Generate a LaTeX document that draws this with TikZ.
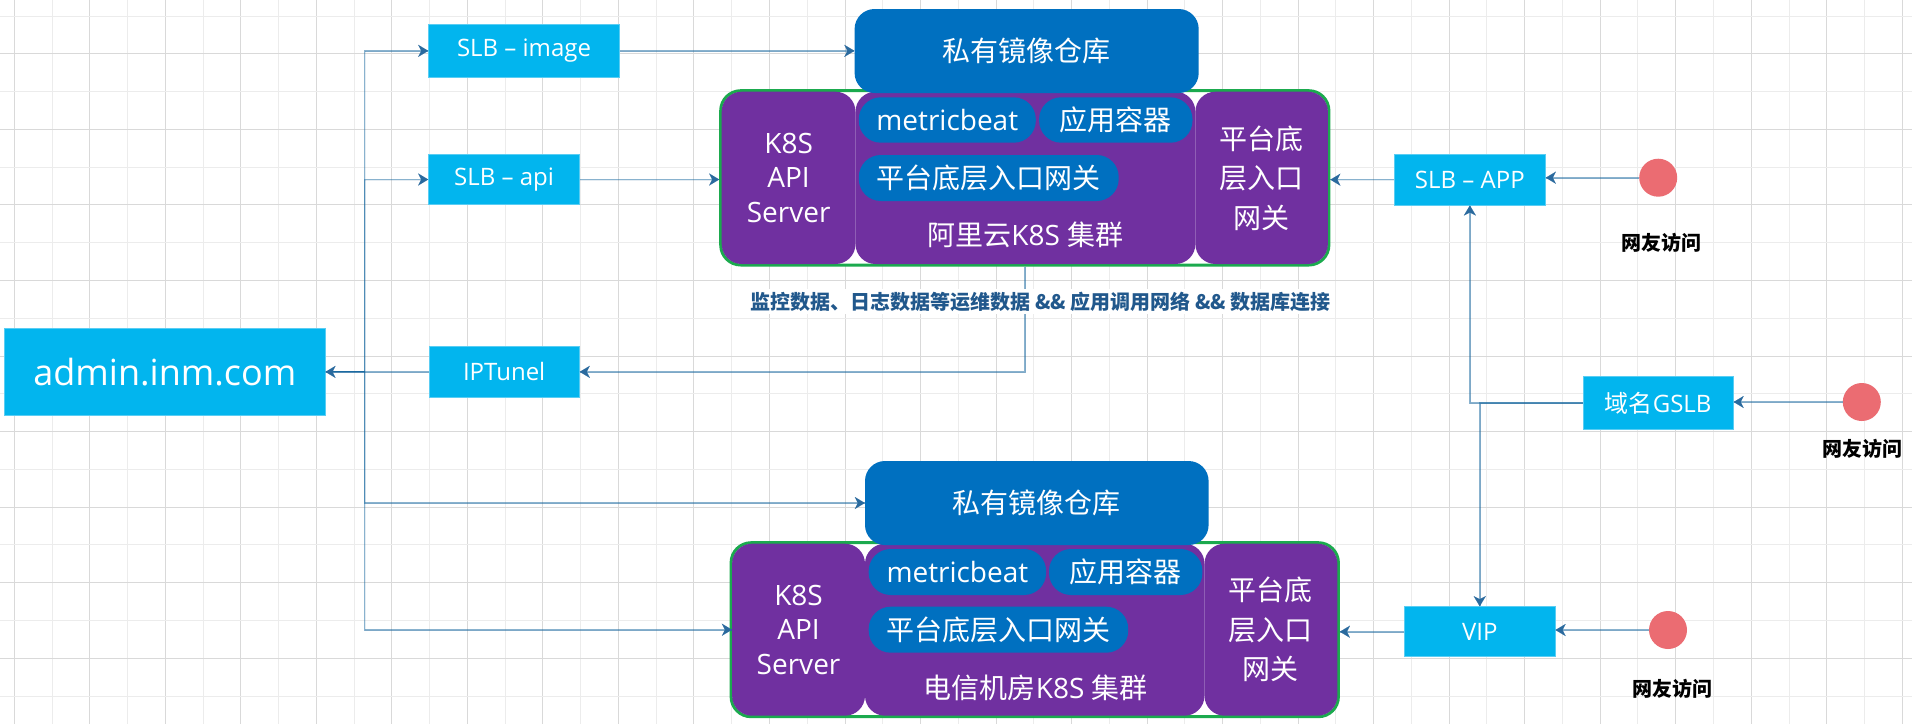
\documentclass[tikz,border=0pt]{standalone}
\usepackage{fontspec}
\setmainfont{Open Sans}
\newfontfamily\cjk{Noto Sans CJK SC}
\usetikzlibrary{arrows.meta,calc}
\definecolor{cyanc}{RGB}{2,181,238}
\definecolor{cyanb}{RGB}{90,205,243}
\definecolor{bluec}{RGB}{0,112,192}
\definecolor{purplec}{RGB}{112,48,160}
\definecolor{greenc}{RGB}{27,170,78}
\definecolor{redc}{RGB}{235,108,114}
\definecolor{linec}{RGB}{21,103,159}
\definecolor{tipc}{RGB}{42,106,158}
\definecolor{labc}{RGB}{33,88,140}
\definecolor{gridd}{RGB}{217,217,217}
\definecolor{gridl}{RGB}{236,236,236}
\tikzset{
  cyanbox/.style={rectangle, fill=cyanc, draw=cyanb, line width=1pt, text=white, inner sep=0pt, font=\fontsize{24}{28}\selectfont},
  bluebox/.style={rectangle, rounded corners=20pt, fill=bluec, text=white, inner sep=0pt, font=\cjk\fontsize{28}{34}\selectfont},
  pill/.style={rectangle, rounded corners=22pt, fill=bluec, text=white, inner sep=0pt, font=\fontsize{28}{34}\selectfont},
  purp/.style={rectangle, rounded corners=20pt, fill=purplec, text=white, inner sep=0pt, align=center},
  outerbox/.style={rectangle, rounded corners=20pt, draw=greenc, line width=3pt, fill=white, inner sep=0pt},
  dot/.style={circle, fill=redc, minimum size=38pt, inner sep=0pt},
  visit/.style={font=\cjk\bfseries\fontsize{20}{24}\selectfont, text=black, inner sep=1pt},
  clname/.style={text=white, inner sep=0pt, font=\fontsize{28}{34}\selectfont},
  elabel/.style={fill=white, text=labc, inner sep=3pt, font=\cjk\bfseries\fontsize{20}{24}\selectfont},
  conn/.style={draw=linec, line width=1.6pt, draw opacity=0.5,
    postaction={draw=tipc, draw opacity=1, line width=0.01pt, -{Stealth[length=10pt, width=12pt, inset=3pt]}}},
}
\begin{document}
\begin{tikzpicture}[x=1pt, y=-1pt]
\useasboundingbox (0,0) rectangle (1912,724);
\fill[white] (0,0) rectangle (1912,724);
% grid
\foreach \i in {0,...,50}{%
  \pgfmathsetmacro{\gx}{14.3+37.76*\i}%
  \ifodd\i \draw[gridl, line width=1pt] (\gx,0) -- (\gx,724);
  \else \draw[gridd, line width=1pt] (\gx,0) -- (\gx,724); \fi}
\foreach \j in {0,...,18}{%
  \pgfmathsetmacro{\gy}{16+37.78*\j}%
  \ifodd\j \draw[gridd, line width=1pt] (0,\gy) -- (1912,\gy);
  \else \draw[gridl, line width=1pt] (0,\gy) -- (1912,\gy); \fi}

% left column
\node[cyanbox, minimum width=320.3, minimum height=86.7, font=\fontsize{36}{40}\selectfont] (admin) at (164.85,371.65) {admin.inm.com};
\node[cyanbox, minimum width=190.6, minimum height=52.3] (slbimg) at (524,50.85) {SLB – image};
\node[cyanbox, minimum width=150.6, minimum height=50] (slbapi) at (504,179.5) {SLB – api};
\node[cyanbox, minimum width=150.3, minimum height=50.3] (iptun) at (504.15,371.85) {IPTunel};

% top cluster
\node[outerbox, minimum width=608.2, minimum height=174.3] (tclu) at (1024.8,177.85) {};
\node[purp, minimum width=133.8, minimum height=172.3, font=\fontsize{28}{34.5}\selectfont] (tapi) at (788.6,177.85) {K8S\\API\\Server};
\node[purp, minimum width=339.9, minimum height=172.3] (tmid) at (1025.45,177.85) {};
\node[purp, minimum width=132.5, minimum height=172.3, font=\cjk\fontsize{28}{39.5}\selectfont] (tgw) at (1261.65,177.85) {平台底\\层入口\\网关};
\node[bluebox, minimum width=344.1, minimum height=84] (timg) at (1026.65,51) {私有镜像仓库};
\node[pill, minimum width=177, minimum height=45.4] (tmb) at (947.3,120) {metricbeat};
\node[pill, minimum width=153.4, minimum height=45.4, font=\cjk\fontsize{28}{34}\selectfont] (tapp) at (1115.8,120) {应用容器};
\node[pill, minimum width=259.9, minimum height=46, font=\cjk\fontsize{28}{34}\selectfont] (tpgw) at (988.75,178) {平台底层入口网关};
\node[clname] (tname) at (1025.4,235) {{\cjk 阿里云}K8S {\cjk 集群}};

% bottom cluster
\node[outerbox, minimum width=607.3, minimum height=174] (bclu) at (1034.75,629.7) {};
\node[purp, minimum width=132.9, minimum height=172, font=\fontsize{28}{34.5}\selectfont] (bapi) at (798.55,629.7) {K8S\\API\\Server};
\node[purp, minimum width=339.5, minimum height=172] (bmid) at (1034.75,629.7) {};
\node[purp, minimum width=132.9, minimum height=172, font=\cjk\fontsize{28}{39.5}\selectfont] (bgw) at (1270.95,629.7) {平台底\\层入口\\网关};
\node[bluebox, minimum width=343.6, minimum height=84] (bimg) at (1036.8,503) {私有镜像仓库};
\node[pill, minimum width=177.4, minimum height=46] (bmb) at (957.4,572) {metricbeat};
\node[pill, minimum width=153.4, minimum height=46, font=\cjk\fontsize{28}{34}\selectfont] (bapp) at (1125.7,572) {应用容器};
\node[pill, minimum width=259.5, minimum height=46, font=\cjk\fontsize{28}{34}\selectfont] (bpgw) at (998.45,629.7) {平台底层入口网关};
\node[clname] (bname) at (1035.8,688.3) {{\cjk 电信机房}K8S {\cjk 集群}};

% right column
\node[cyanbox, minimum width=150.9, minimum height=50.7] (slbapp) at (1469.85,179.65) {SLB – APP};
\node[cyanbox, minimum width=150.2, minimum height=52.3] (gslb) at (1658.1,402.85) {{\cjk 域名}GSLB};
\node[cyanbox, minimum width=150.5, minimum height=50] (vip) at (1479.75,631.7) {VIP};
\node[dot] (c1) at (1658.2,177.7) {};
\node[dot] (c2) at (1861.8,402) {};
\node[dot] (c3) at (1668,630) {};
\node[visit] (v1) at (1661,243.3) {网友访问};
\node[visit] (v2) at (1862.5,449.3) {网友访问};
\node[visit] (v3) at (1672.6,689.3) {网友访问};

% connectors
\coordinate (trunk) at (364.6,371.65);
\draw[conn] (admin.east) -- (trunk) |- (slbimg.west);
\draw[conn] (admin.east) -- (trunk) |- (slbapi.west);
\draw[conn] (admin.east) -- (trunk) |- (bimg.west);
\draw[conn] (admin.east) -- (trunk) |- (bapi.west);
\draw[conn] (slbimg.east) -- (slbimg.east -| timg.west);
\draw[conn] (slbapi.east) -- (slbapi.east -| tclu.west);
\draw[conn] (tclu.south) |- (iptun.east);
\draw[conn] (iptun.west) -- (iptun.west -| admin.east);
\draw[conn] (c1.west) -- (c1.west -| slbapp.east);
\draw[conn] (slbapp.west) -- (slbapp.west -| tclu.east);
\draw[conn] (c2.west) -- (c2.west -| gslb.east);
\draw[conn] (gslb.west) -| (slbapp.south);
\draw[conn] (gslb.west) -| (vip.north);
\draw[conn] (c3.west) -- (c3.west -| vip.east);
\draw[conn] (vip.west) -- (vip.west -| bclu.east);
\node[elabel] (lbl) at (1040.8,301.7) {监控数据、日志数据等运维数据 \&\& 应用调用网络 \&\& 数据库连接};
\end{tikzpicture}
\end{document}
